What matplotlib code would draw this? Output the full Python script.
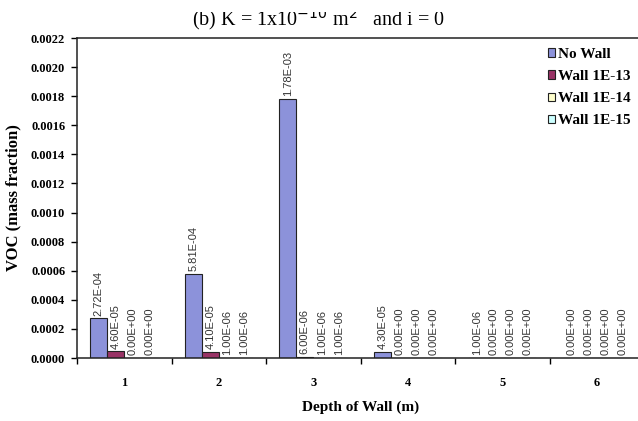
import numpy as np
import matplotlib.pyplot as plt
from matplotlib.patches import Rectangle
from matplotlib.ticker import FixedLocator, NullFormatter

depths = ["1", "2", "3", "4", "5", "6"]
series = ["No Wall", "Wall 1E-13", "Wall 1E-14", "Wall 1E-15"]
no_wall = [2.72e-4, 5.81e-4, 1.78e-3, 4.30e-5, 1.00e-6, 0.0]
wall_13 = [4.60e-5, 4.10e-5, 6.00e-6, 0.0, 0.0, 0.0]
wall_14 = [0.0, 1.00e-6, 1.00e-6, 0.0, 0.0, 0.0]
wall_15 = [0.0, 1.00e-6, 1.00e-6, 0.0, 0.0, 0.0]
colors = ["#8c92da", "#993366", "#ffffcc", "#ccffff"]

SERIF = "Liberation Serif"

fig = plt.figure(figsize=(6.38, 4.21), dpi=100)
# plot area runs a little past the right edge of the picture (cropped original)
ax = fig.add_axes([0.1207, 0.1496, 0.889, 0.760])

x = np.arange(len(depths))
w = 0.18
for i, (name, vals, c) in enumerate(zip(series, [no_wall, wall_13, wall_14, wall_15], colors)):
    pos = x + (i - 1.5) * w
    ax.bar(pos, vals, width=w, color=c, edgecolor="#222222", lw=0.8, label=name)
    for xp, v in zip(pos, vals):
        ax.annotate(f"{v:.2E}", (xp, v), xytext=(0, 2), textcoords="offset points",
                    rotation=90, ha="center", va="bottom",
                    fontsize=8, family="Liberation Sans", color="#333333")

ax.set_xlim(-0.5, len(depths) - 0.5)
ax.set_ylim(0, 0.0022)
yt = np.arange(0, 0.00221, 0.0002)
ax.set_yticks(yt)
ax.set_yticklabels([f"{t:.4f}" for t in yt], fontsize=9, family=SERIF, fontweight="bold")

# category labels at centres, tick marks between categories
ax.set_xticks(x)
ax.set_xticklabels(depths, fontsize=9, family=SERIF, fontweight="bold")
ax.tick_params(axis="x", which="major", length=0, pad=14)
ax.xaxis.set_minor_locator(FixedLocator(np.arange(-0.5, len(depths) + 0.5, 1)))
ax.xaxis.set_minor_formatter(NullFormatter())
ax.tick_params(axis="x", which="minor", length=4, width=1.0, direction="out")
ax.tick_params(axis="y", length=4, width=1.0, direction="out", pad=4.5)

for s in ax.spines.values():
    s.set_linewidth(1.1)
    s.set_color("#222222")

ax.set_xlabel("Depth of Wall (m)", fontsize=11, family=SERIF, fontweight="bold", labelpad=8)
ax.set_ylabel("VOC (mass fraction)", fontsize=12, family=SERIF, fontweight="bold", labelpad=7)

ax.legend(loc="upper left", bbox_to_anchor=(0.83, 0.969), frameon=False,
          prop={"family": SERIF, "weight": "bold", "size": 11},
          handlelength=0.5, handleheight=0.5, handletextpad=0.2, labelspacing=0.6,
          borderaxespad=0, borderpad=0)

fig.text(0.5, 1 - 25 / 421, r"(b) K = 1x10$^{-10}$ m$^{2}$   and i = 0", ha="center",
         va="baseline", fontsize=14.5, family=SERIF)
# the original picture has the top of the title cut off
fig.patches.append(Rectangle((0, 1 - 12 / 421), 1, 12 / 421, transform=fig.transFigure,
                             facecolor="white", edgecolor="none", zorder=10))

fig.savefig("out.png", dpi=100)
